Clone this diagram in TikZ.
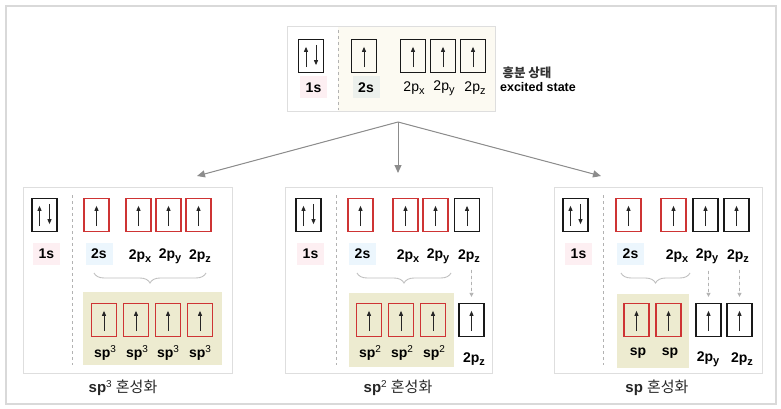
\documentclass[tikz,border=0pt]{standalone}
\usepackage{fontspec}
\setmainfont{Liberation Sans}
\newfontfamily\krfont{Noto Sans CJK KR}
\usetikzlibrary{positioning,arrows.meta,decorations.pathreplacing}

\definecolor{hybred}{RGB}{206,52,52}
\definecolor{pinkbg}{RGB}{253,239,242}
\definecolor{greybg}{RGB}{236,240,236}
\definecolor{bluebg}{RGB}{236,246,253}
\definecolor{hybbg}{RGB}{237,235,208}
\definecolor{topbeige}{RGB}{252,250,242}

\newcommand{\orbsub}[1]{\raisebox{-0.35ex}{\fontsize{11}{11}\selectfont #1}}
\newcommand{\orbsup}[1]{\raisebox{0.7ex}{\fontsize{10}{10}\selectfont\mdseries #1}}
\newcommand{\spinup}[1]{\draw[spin] ([yshift=6pt]#1.south) -- ([yshift=-8pt]#1.north);}
\newcommand{\spinpair}[1]{%
  \draw[spin] ([xshift=-5pt,yshift=6pt]#1.south) -- ([xshift=-5pt,yshift=-8pt]#1.north);
  \draw[spin] ([xshift=5pt,yshift=-6pt]#1.north) -- ([xshift=5pt,yshift=8pt]#1.south);}

\begin{document}
\begin{tikzpicture}[x=1pt, y=-1pt,
  % Box Styles
  orb/.style={rectangle, draw=black!90, line width=1.3pt, minimum width=25pt, minimum height=33pt, inner sep=0pt},
  hyb/.style={orb, draw=hybred},
  panel/.style={rectangle, draw=black!13, line width=1pt, inner sep=0pt},
  % Text Styles
  lbl/.style={font=\bfseries\fontsize{14}{16}\selectfont, inner sep=2pt},
  slbl/.style={lbl, minimum width=27pt, minimum height=22pt},
  ttl/.style={font=\fontsize{15}{17}\selectfont, text=black!85},
  % Line Styles
  spin/.style={-{Triangle[length=5pt,width=4pt]}, line width=0.9pt, draw=black!85},
  flow/.style={-{Triangle[length=8pt,width=7pt]}, line width=1pt, draw=black!45, fill=black!45},
  dashar/.style={-{Triangle[length=4pt,width=4pt]}, dashed, line width=0.8pt, draw=black!30, fill=black!30},
  divider/.style={dashed, line width=0.7pt, draw=black!30},
  bracestyle/.style={decorate, decoration={brace, amplitude=10pt, aspect=0.5}, line width=0.9pt, draw=black!25},
]
\useasboundingbox (0,0) rectangle (781,409);
\draw[black!15, line width=1.5pt] (6,6) rectangle (776,404);

% Excited state
\fill[topbeige] (338,27) rectangle (495,112);
\node[panel, minimum width=208pt, minimum height=85pt] (excited) at (391,69.5) {};
\draw[divider] (338,30) -- (338,110);
\node[orb] (t1s) at (311,56) {};
\node[orb] (t2s) at (364,56) {};
\node[orb] (t2px) at (413,56) {};
\node[orb] (t2py) at (443,56) {};
\node[orb] (t2pz) at (473,56) {};
\spinpair{t1s}
\foreach \n in {t2s,t2px,t2py,t2pz} {\spinup{\n}}
\node[slbl, fill=pinkbg] (t1sl) at (313.5,87.5) {1s};
\node[slbl, fill=greybg] (t2sl) at (366,87.5) {2s};
\node[lbl, font=\fontsize{14}{16}\selectfont] (t2pxl) at (414,88) {2p\orbsub{x}};
\node[lbl, font=\fontsize{14}{16}\selectfont] (t2pyl) at (444,88) {2p\orbsub{y}};
\node[lbl, font=\fontsize{14}{16}\selectfont] (t2pzl) at (475,88) {2p\orbsub{z}};
\node[font=\krfont\bfseries\fontsize{12.5}{14}\selectfont, text=black!80] (exkr) at (527,73) {흥분 상태};
\node[font=\bfseries\fontsize{12.5}{14}\selectfont, inner sep=0pt] (exen) at (538,87) {excited state};

% Panels
\node[panel, minimum width=209pt, minimum height=186pt] (panA) at (127.5,280) {};
\node[panel, minimum width=207pt, minimum height=186pt] (panB) at (388.5,280) {};
\node[panel, minimum width=208pt, minimum height=186pt] (panC) at (658,280) {};

\coordinate (fork) at (398,122);
\coordinate (tipA) at (197,176);
\coordinate (tipB) at (398,173);
\coordinate (tipC) at (601,176);
\draw[flow] (fork) -- (tipA);
\draw[flow] (fork) -- (tipB);
\draw[flow] (fork) -- (tipC);

% sp3
\fill[hybbg] (83,292) rectangle (222,365);
\draw[divider] (72,195) -- (72,365);
\node[orb] (a1s) at (44.5,215) {};
\node[hyb] (a2s) at (96.5,215) {};
\node[hyb] (a2px) at (138.5,215) {};
\node[hyb] (a2py) at (168.5,215) {};
\node[hyb] (a2pz) at (198.5,215) {};
\node[slbl, fill=pinkbg] (a1sl) at (46.5,253.5) {1s};
\node[slbl, fill=bluebg] (a2sl) at (99,253.5) {2s};
\node[lbl] (a2pxl) at (140,256) {2p\orbsub{x}};
\node[lbl] (a2pyl) at (170,256) {2p\orbsub{y}};
\node[lbl] (a2pzl) at (200,256) {2p\orbsub{z}};
\draw[bracestyle] (206,273) -- (94,273);
\node[hyb] (asp1) at (104,320) {};
\node[hyb] (asp2) at (136,320) {};
\node[hyb] (asp3) at (168,320) {};
\node[hyb] (asp4) at (200,320) {};
\foreach \n/\x in {asp1/105,asp2/137,asp3/168,asp4/200} {
  \node[lbl] (\n l) at (\x,353) {sp\orbsup{3}};
}
\spinpair{a1s}
\foreach \n in {a2s,a2px,a2py,a2pz,asp1,asp2,asp3,asp4} {\spinup{\n}}
\node[ttl] (ttlA) at (123,388) {\textbf{sp}\orbsup{3} {\krfont 혼성화}};

% sp2
\fill[hybbg] (349,293) rectangle (454,367);
\draw[divider] (336,195) -- (336,365);
\node[orb] (b1s) at (308.5,215) {};
\node[hyb] (b2s) at (360.5,215) {};
\node[hyb] (b2px) at (405.5,215) {};
\node[hyb] (b2py) at (435.5,215) {};
\node[orb] (b2pz) at (467,215) {};
\node[slbl, fill=pinkbg] (b1sl) at (310.5,253.5) {1s};
\node[slbl, fill=bluebg] (b2sl) at (362.5,253.5) {2s};
\node[lbl] (b2pxl) at (408,256) {2p\orbsub{x}};
\node[lbl] (b2pyl) at (438,256) {2p\orbsub{y}};
\node[lbl] (b2pzl) at (469,256) {2p\orbsub{z}};
\draw[bracestyle] (451,273) -- (357,273);
\node[hyb] (bsp1) at (369,320) {};
\node[hyb] (bsp2) at (401,320) {};
\node[hyb] (bsp3) at (433,320) {};
\node[orb] (b2pzd) at (471.5,320) {};
\foreach \n/\x in {bsp1/370,bsp2/402,bsp3/434} {
  \node[lbl] (\n l) at (\x,353) {sp\orbsup{2}};
}
\node[lbl] (b2pzdl) at (474,359) {2p\orbsub{z}};
\draw[dashar, shorten <=5pt, shorten >=6pt] (b2pzl.south -| b2pzd.north) -- (b2pzd.north);
\spinpair{b1s}
\foreach \n in {b2s,b2px,b2py,b2pz,bsp1,bsp2,bsp3,b2pzd} {\spinup{\n}}
\node[ttl] (ttlB) at (398,388) {\textbf{sp}\orbsup{2} {\krfont 혼성화}};

% sp
\fill[hybbg] (617,294) rectangle (689,368);
\draw[divider] (603,195) -- (603,365);
\node[orb] (c1s) at (575.5,215) {};
\node[hyb] (c2s) at (628.5,215) {};
\node[hyb] (c2px) at (673.5,215) {};
\node[orb] (c2py) at (705.5,215) {};
\node[orb] (c2pz) at (736.5,215) {};
\node[slbl, fill=pinkbg] (c1sl) at (578.5,253.5) {1s};
\node[slbl, fill=bluebg] (c2sl) at (630.5,253.5) {2s};
\node[lbl] (c2pxl) at (677,256) {2p\orbsub{x}};
\node[lbl] (c2pyl) at (707,256) {2p\orbsub{y}};
\node[lbl] (c2pzl) at (738,256) {2p\orbsub{z}};
\draw[bracestyle] (690,273) -- (621,273);
\node[hyb] (csp1) at (636.5,320) {};
\node[hyb] (csp2) at (668.5,320) {};
\node[orb] (c2pyd) at (708.5,320) {};
\node[orb] (c2pzd) at (739.5,320) {};
\node[lbl] (csp1l) at (638,353) {sp};
\node[lbl] (csp2l) at (670,353) {sp};
\node[lbl] (c2pydl) at (708,359) {2p\orbsub{y}};
\node[lbl] (c2pzdl) at (742,359) {2p\orbsub{z}};
\draw[dashar, shorten <=5pt, shorten >=6pt] (c2pyl.south -| c2pyd.north) -- (c2pyd.north);
\draw[dashar, shorten <=5pt, shorten >=6pt] (c2pzl.south -| c2pzd.north) -- (c2pzd.north);
\spinpair{c1s}
\foreach \n in {c2s,c2px,c2py,c2pz,csp1,csp2,c2pyd,c2pzd} {\spinup{\n}}
\node[ttl] (ttlC) at (657,388) {\textbf{sp} {\krfont 혼성화}};

\end{tikzpicture}
\end{document}
